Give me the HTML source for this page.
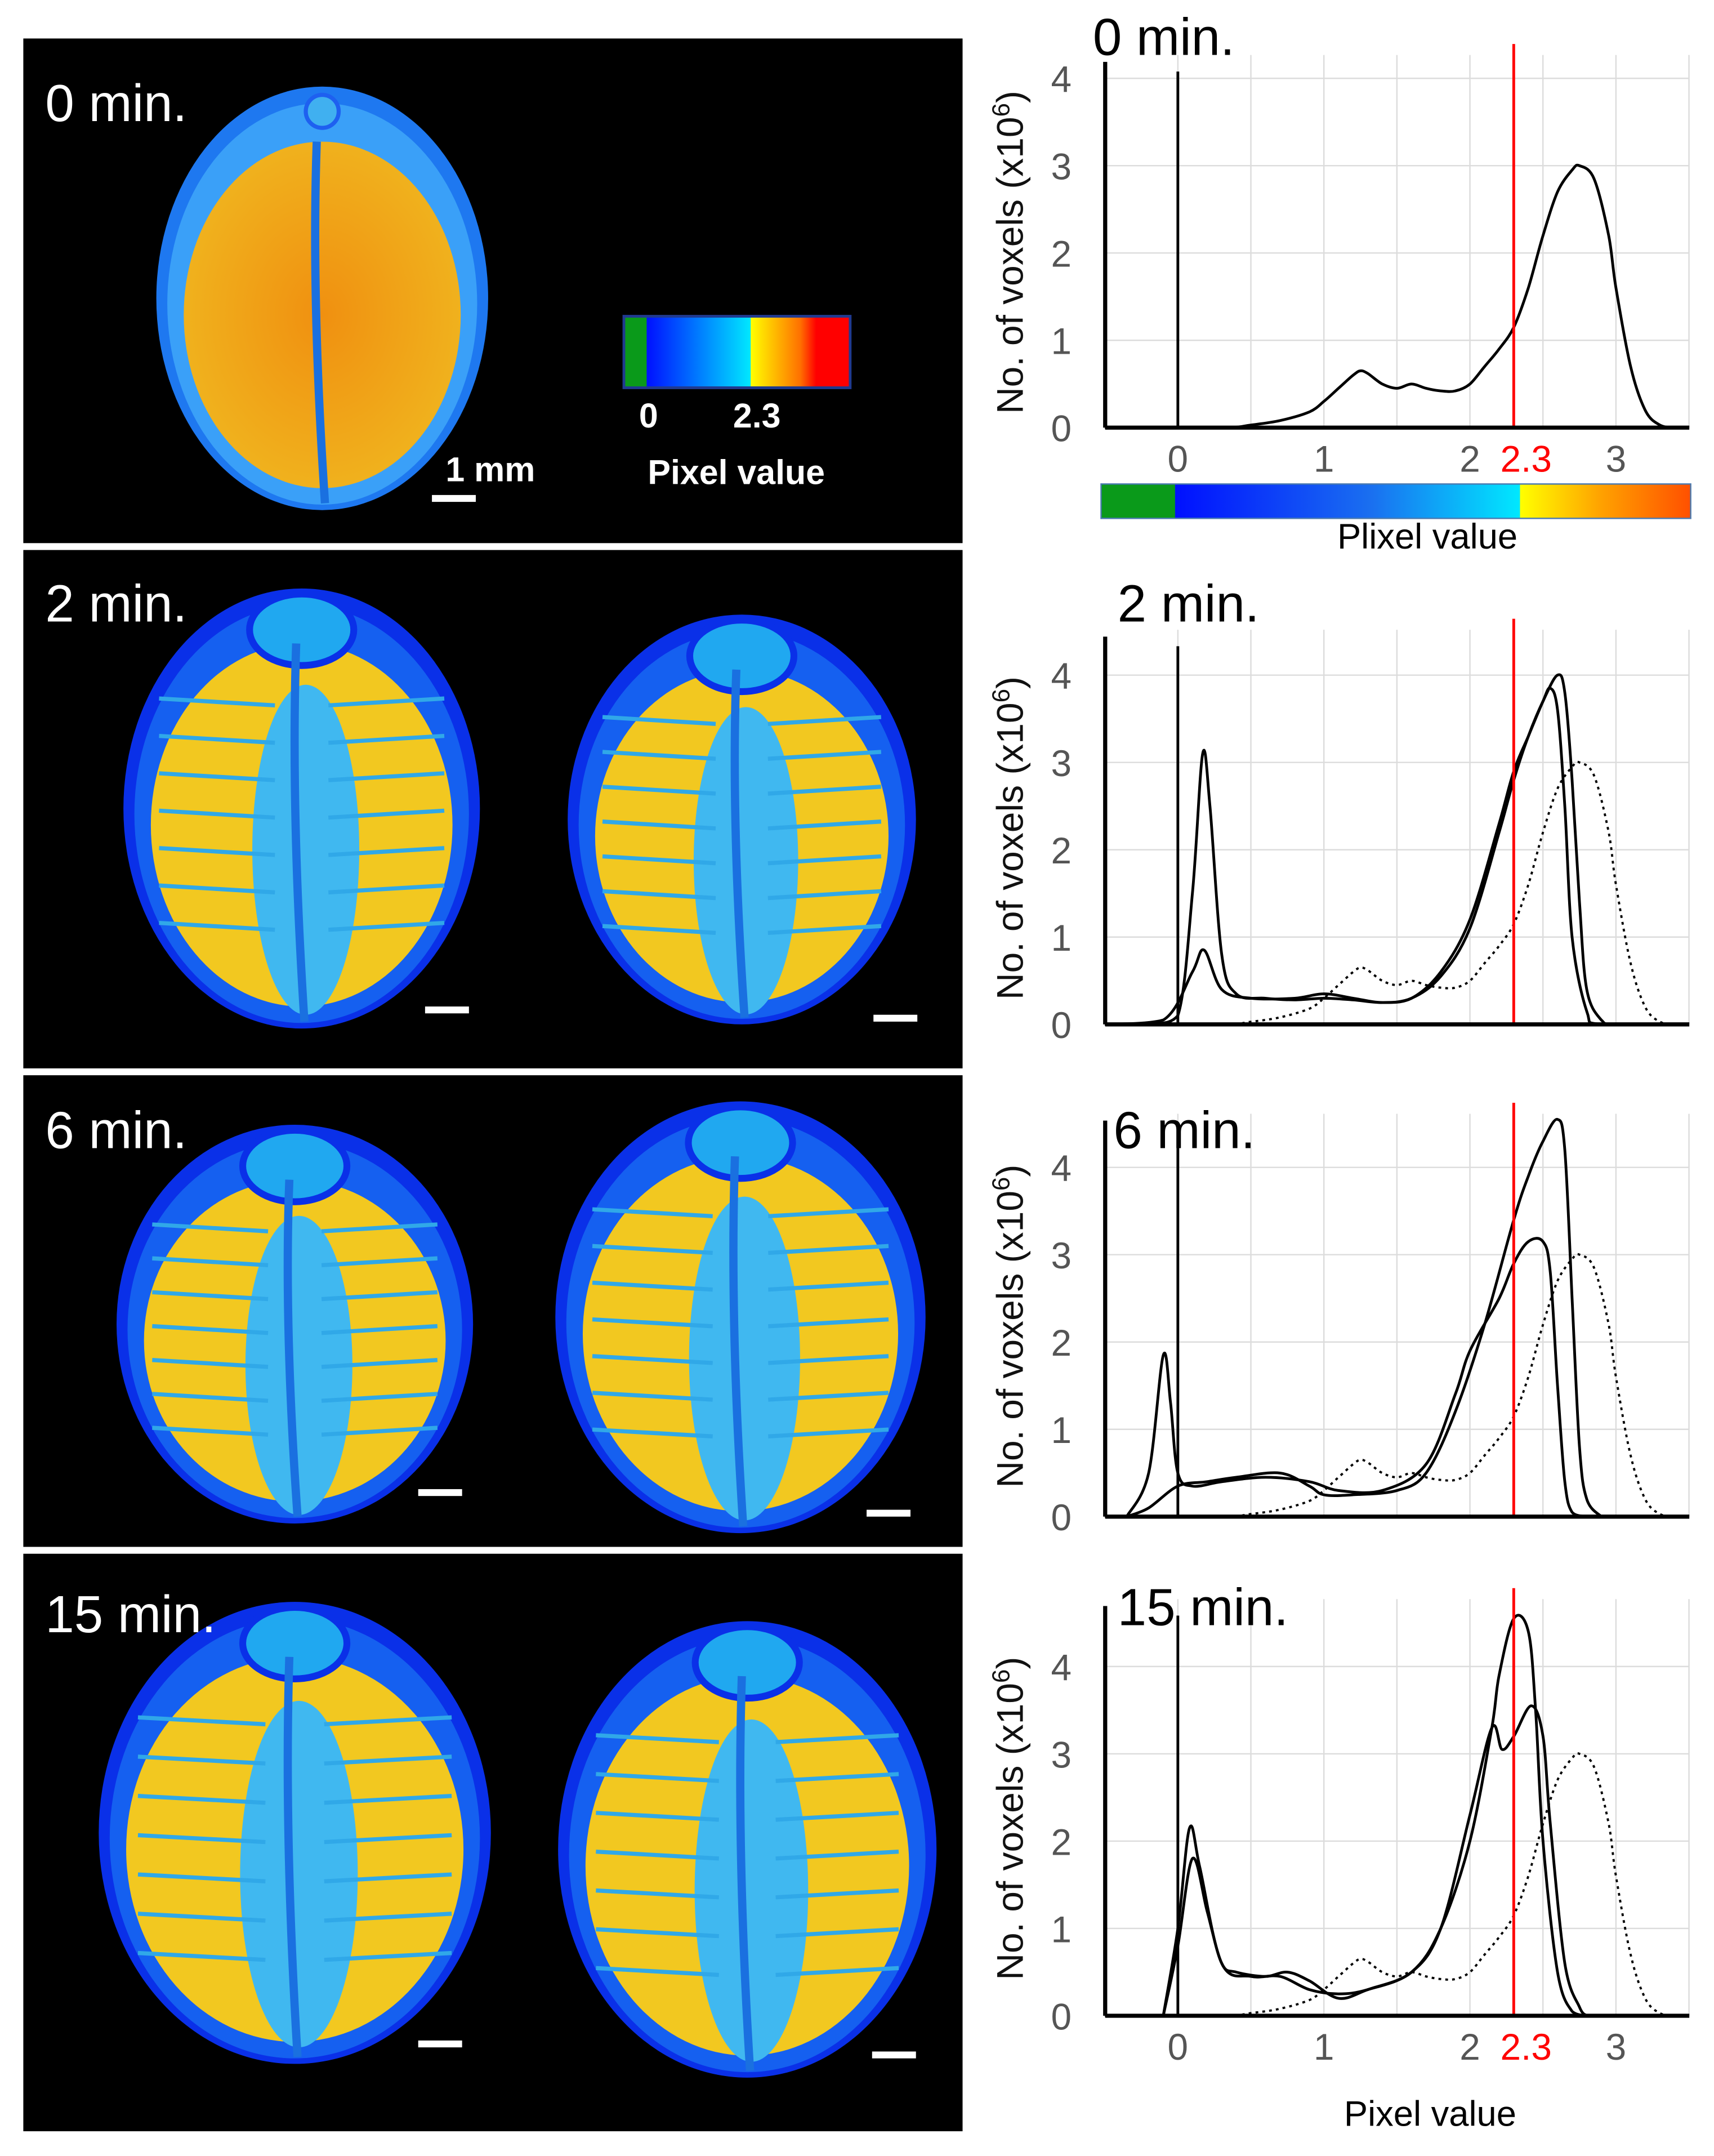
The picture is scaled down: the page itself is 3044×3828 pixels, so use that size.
<!DOCTYPE html>
<html><head><meta charset="utf-8"><style>
html,body{margin:0;padding:0;background:#fff;}
svg{display:block;font-family:"Liberation Sans",sans-serif;}
</style></head><body>
<svg id="fig" width="3044" height="3828" viewBox="0 0 1250 1568" preserveAspectRatio="none" xmlns="http://www.w3.org/2000/svg">
<defs>
<linearGradient id="cbar" x1="0" x2="1" y1="0" y2="0">
<stop offset="0" stop-color="#0a9a1a"/><stop offset="0.125" stop-color="#0a9a1a"/>
<stop offset="0.126" stop-color="#0010ff"/><stop offset="0.46" stop-color="#1a70f0"/>
<stop offset="0.71" stop-color="#00e8ff"/><stop offset="0.711" stop-color="#ffff00"/>
<stop offset="0.85" stop-color="#ffa000"/><stop offset="1" stop-color="#ff5000"/>
</linearGradient>
<linearGradient id="cbar2" x1="0" x2="1" y1="0" y2="0">
<stop offset="0" stop-color="#0a9a1a"/><stop offset="0.1" stop-color="#0a9a1a"/>
<stop offset="0.101" stop-color="#0010ff"/><stop offset="0.56" stop-color="#00e8ff"/>
<stop offset="0.561" stop-color="#ffff00"/><stop offset="0.78" stop-color="#ff7000"/>
<stop offset="0.85" stop-color="#ff0000"/><stop offset="1" stop-color="#ff0000"/>
</linearGradient>
<radialGradient id="orange" cx="0.5" cy="0.5" r="0.6">
<stop offset="0" stop-color="#f09010"/><stop offset="1" stop-color="#f0b820"/>
</radialGradient>
</defs>
<g id="images"></g>
<g id="charts"></g>
</svg>
<script>
// ---- chart data (pixel value x, voxel count y in 1e6) ----
const xTicks = [0, 1, 2, 3];
const yTicks = [0, 1, 2, 3, 4];
const threshold = 2.3;
const titles = ["0 min.", "2 min.", "6 min.", "15 min."];

const ref0x = [-0.5,0.3,0.5,0.7,0.9,1.0,1.1,1.2,1.25,1.3,1.4,1.5,1.6,1.7,1.8,1.9,2.0,2.1,2.2,2.3,2.4,2.5,2.6,2.7,2.75,2.85,2.95,3.0,3.1,3.2,3.3,3.4,3.5];
const ref0y = [0,0,0.03,0.08,0.18,0.3,0.45,0.6,0.65,0.62,0.5,0.45,0.5,0.45,0.42,0.42,0.5,0.7,0.9,1.15,1.6,2.2,2.7,2.95,3.0,2.85,2.2,1.6,0.7,0.2,0.03,0,0];

const m2ax = [-0.5,-0.2,0,0.1,0.17,0.22,0.3,0.4,0.6,0.8,1.0,1.2,1.4,1.6,1.8,2.0,2.2,2.3,2.4,2.5,2.55,2.6,2.65,2.7,2.8,2.9,3.5];
const m2ay = [0,0,0.1,1.5,3.1,2.5,0.8,0.35,0.3,0.28,0.3,0.28,0.25,0.3,0.6,1.2,2.3,2.9,3.3,3.7,3.85,3.6,2.5,1.0,0.15,0,0];
const m2bx = [-0.5,-0.1,0.1,0.18,0.3,0.5,0.8,1.0,1.2,1.4,1.6,1.8,2.0,2.2,2.3,2.4,2.5,2.6,2.65,2.7,2.75,2.8,2.9,3.0,3.5];
const m2by = [0,0.05,0.6,0.85,0.4,0.3,0.3,0.35,0.3,0.25,0.3,0.55,1.1,2.2,2.8,3.3,3.7,4.0,3.8,2.8,1.4,0.4,0.05,0,0];

const m6ax = [-0.35,-0.2,-0.1,-0.05,0,0.1,0.3,0.6,0.9,1.1,1.4,1.7,1.9,2.0,2.2,2.3,2.4,2.5,2.55,2.6,2.65,2.7,2.8];
const m6ay = [0,0.5,1.85,1.3,0.5,0.35,0.4,0.45,0.4,0.3,0.3,0.6,1.4,1.9,2.5,2.9,3.15,3.15,2.8,1.5,0.4,0.05,0];
const m6bx = [-0.35,-0.2,0,0.2,0.4,0.7,0.9,1.0,1.2,1.5,1.7,1.9,2.1,2.3,2.4,2.5,2.6,2.65,2.7,2.75,2.8,2.9];
const m6by = [0,0.1,0.35,0.4,0.45,0.5,0.35,0.25,0.25,0.3,0.5,1.2,2.2,3.4,3.9,4.3,4.55,4.2,2.5,0.8,0.2,0];

const m15ax = [-0.1,0,0.08,0.15,0.3,0.5,0.7,0.9,1.1,1.3,1.6,1.8,2.0,2.15,2.2,2.3,2.4,2.45,2.5,2.6,2.7,2.8];
const m15ay = [0,1.0,2.15,1.7,0.6,0.45,0.45,0.3,0.25,0.3,0.5,1.0,2.0,3.3,3.9,4.55,4.4,3.5,2.0,0.5,0.05,0];
const m15bx = [-0.1,0,0.1,0.2,0.3,0.4,0.6,0.75,0.9,1.1,1.3,1.6,1.8,2.0,2.15,2.22,2.3,2.42,2.5,2.55,2.65,2.75,2.8];
const m15by = [0,0.8,1.8,1.2,0.6,0.5,0.45,0.5,0.4,0.2,0.3,0.5,1.0,2.3,3.3,3.05,3.2,3.55,3.2,2.2,0.6,0.1,0];

const NS = "http://www.w3.org/2000/svg";
function mk(tag, attrs, parent, txt) {
  const e = document.createElementNS(NS, tag);
  for (const k in attrs) e.setAttribute(k, attrs[k]);
  if (txt !== undefined) e.textContent = txt;
  parent.appendChild(e);
  return e;
}
function smoothPath(pts, ymax) {
  let d = "M" + pts[0][0].toFixed(1) + "," + pts[0][1].toFixed(1);
  for (let i = 0; i < pts.length - 1; i++) {
    const p0 = pts[Math.max(0, i - 1)], p1 = pts[i], p2 = pts[i + 1], p3 = pts[Math.min(pts.length - 1, i + 2)];
    const c1x = p1[0] + (p2[0] - p0[0]) / 6, c1y = Math.min(ymax, p1[1] + (p2[1] - p0[1]) / 6);
    const c2x = p2[0] - (p3[0] - p1[0]) / 6, c2y = Math.min(ymax, p2[1] - (p3[1] - p1[1]) / 6);
    d += " C" + c1x.toFixed(1) + "," + c1y.toFixed(1) + " " + c2x.toFixed(1) + "," + c2y.toFixed(1) + " " + p2[0].toFixed(1) + "," + p2[1].toFixed(1);
  }
  return d;
}

const charts = document.getElementById("charts");
const cfgs = [
  {top: 40, y0: 311, tx: 797, ty: 40, series: [[ref0x, ref0y, false]], xlab: true},
  {top: 458, y0: 745, tx: 815, ty: 452, series: [[ref0x, ref0y, true], [m2ax, m2ay, false], [m2bx, m2by, false]], xlab: false},
  {top: 810, y0: 1103, tx: 812, ty: 835, series: [[ref0x, ref0y, true], [m6ax, m6ay, false], [m6bx, m6by, false]], xlab: false},
  {top: 1163, y0: 1466, tx: 815, ty: 1182, series: [[ref0x, ref0y, true], [m15ax, m15ay, false], [m15bx, m15by, false]], xlab: true}
];
const X = v => 859 + v * 106.5;
const LEFT = 806, RIGHT = 1232;

cfgs.forEach((c, ci) => {
  const Y = v => c.y0 - v * 63.5;
  const g = mk("g", {}, charts);
  
  
  for (let v = 0; v <= 3.5; v += 0.5) {
    const l = mk("line", {x1: X(v), x2: X(v), y1: c.top, y2: c.y0, stroke: "#dcdcdc", "stroke-width": 1}, g);
    
    
  }
  yTicks.forEach(t => {
    if (t === 0) return;
    const l = mk("line", {x1: LEFT, x2: RIGHT, y1: Y(t), y2: Y(t), stroke: "#dcdcdc", "stroke-width": 1}, g);
    
    
  });
  yTicks.forEach(t => {
    const tx = mk("text", {x: 774, y: Y(t) + 10, "font-size": 27, fill: "#555", "text-anchor": "middle"}, g, String(t));
    
    
  });
  const yt = mk("text", {x: 0, y: 0, "font-size": 27, fill: "#111", "text-anchor": "middle", transform: "translate(746," + ((c.top + c.y0) / 2 + 8) + ") rotate(-90)"}, g);
  
  
  mk("tspan", {}, yt, "No. of voxels (x10");
  mk("tspan", {dy: -10, "font-size": 18}, yt, "6");
  mk("tspan", {dy: 10}, yt, ")");
  const z = mk("line", {x1: X(0), x2: X(0), y1: c.top + 12, y2: c.y0, stroke: "#000", "stroke-width": 2}, g);
  
  
  c.series.forEach((s, si) => {
    const pts = s[0].map((xv, i) => [X(xv), Y(s[1][i])]);
    const p = mk("path", {d: smoothPath(pts, c.y0), fill: "none", stroke: "#000", "stroke-width": s[2] ? 1.6 : 2, "stroke-dasharray": s[2] ? "2,3" : "none"}, g);
    
    
  });
  const r = mk("line", {x1: X(threshold), x2: X(threshold), y1: c.top - 8, y2: c.y0, stroke: "#ff0000", "stroke-width": 2}, g);
  
  
  const ax = mk("line", {x1: LEFT, x2: LEFT, y1: c.top + 5, y2: c.y0, stroke: "#000", "stroke-width": 3}, g);
  
  
  const bx = mk("line", {x1: LEFT, x2: RIGHT, y1: c.y0, y2: c.y0, stroke: "#000", "stroke-width": 3}, g);
  
  
  const tt = mk("text", {x: c.tx, y: c.ty, "font-size": 38, fill: "#000"}, g, titles[ci]);
  
  
  if (c.xlab) {
    xTicks.forEach(t => {
      const l = mk("text", {x: X(t), y: c.y0 + 32, "font-size": 27, fill: "#555", "text-anchor": "middle"}, g, String(t));
      
      
    });
    const rl = mk("text", {x: X(threshold) + 9, y: c.y0 + 32, "font-size": 27, fill: "#ff0000", "text-anchor": "middle"}, g, String(threshold));
    
    
  }
});
{
  const cb = mk("rect", {x: 803, y: 352, width: 430, height: 25, fill: "url(#cbar)", stroke: "#4a7ab0", "stroke-width": 1}, charts);
  
  
  const t1 = mk("text", {x: 1041, y: 399, "font-size": 26, fill: "#000", "text-anchor": "middle"}, charts, "Plixel value");
  
  
  const t2 = mk("text", {x: 1043, y: 1546, "font-size": 26, fill: "#000", "text-anchor": "middle"}, charts, "Pixel value");
  
  
}

// ---- left image panels ----
const imgs = document.getElementById("images");
const panels = [
  {y: 28, h: 367, label: "0 min.", ly: 88},
  {y: 400, h: 377, label: "2 min.", ly: 452},
  {y: 782, h: 343, label: "6 min.", ly: 835},
  {y: 1130, h: 420, label: "15 min.", ly: 1187}
];
const seeds = [
  [{cx: 235, cy: 217, rx: 121, ry: 154, old: true, bar: [315, 360]}],
  [{cx: 220, cy: 588, rx: 130, ry: 160, bar: [310, 732]}, {cx: 541, cy: 596, rx: 127, ry: 149, bar: [637, 738]}],
  [{cx: 215, cy: 963, rx: 130, ry: 145, bar: [305, 1083]}, {cx: 540, cy: 958, rx: 135, ry: 157, bar: [632, 1098]}],
  [{cx: 215, cy: 1333, rx: 143, ry: 168, bar: [305, 1484]}, {cx: 545, cy: 1345, rx: 138, ry: 166, bar: [636, 1492]}]
];
panels.forEach((p, pi) => {
  const g = mk("g", {}, imgs);
  
  
  const bg = mk("rect", {x: 17, y: p.y, width: 685, height: p.h, fill: "#000"}, g);
  
  
  seeds[pi].forEach((s, si) => {
    const sg = mk("g", {}, g);
    
    
    mk("ellipse", {cx: s.cx, cy: s.cy, rx: s.rx, ry: s.ry, fill: s.old ? "#1e78f0" : "#0a30e8"}, sg);
    mk("ellipse", {cx: s.cx, cy: s.cy + 4, rx: s.rx - 8, ry: s.ry - 8, fill: s.old ? "#3aa0f8" : "#1560f0"}, sg);
    const innerFill = s.old ? "url(#orange)" : "#f2c820";
    mk("ellipse", {cx: s.cx, cy: s.cy + 12, rx: s.rx - 20, ry: s.ry - 28, fill: innerFill}, sg);
    if (!s.old) {
      mk("ellipse", {cx: s.cx + 3, cy: s.cy + 30, rx: s.rx * 0.3, ry: s.ry * 0.75, fill: "#40b8f0"}, sg);
      for (let k = 0; k < 7; k++) {
        const yy = s.cy - s.ry * 0.5 + k * s.ry * 0.17;
        mk("line", {x1: s.cx - s.rx * 0.8, x2: s.cx - s.rx * 0.15, y1: yy, y2: yy + 5, stroke: "#30a8e8", "stroke-width": 3}, sg);
        mk("line", {x1: s.cx + s.rx * 0.15, x2: s.cx + s.rx * 0.8, y1: yy + 5, y2: yy, stroke: "#30a8e8", "stroke-width": 3}, sg);
      }
      mk("ellipse", {cx: s.cx, cy: s.cy - s.ry + 30, rx: 38, ry: 26, fill: "#20a8f0", stroke: "#0a30e8", "stroke-width": 5}, sg);
    } else {
      mk("ellipse", {cx: s.cx, cy: s.cy - s.ry + 18, rx: 12, ry: 12, fill: "#40b0f0", stroke: "#1e60f0", "stroke-width": 3}, sg);
    }
    mk("path", {d: "M" + (s.cx - 4) + "," + (s.cy - s.ry + 40) + " Q" + (s.cx - 8) + "," + s.cy + " " + (s.cx + 2) + "," + (s.cy + s.ry - 5), fill: "none", stroke: "#1a70e0", "stroke-width": 6}, sg);
    const bar = mk("rect", {x: s.bar[0], y: s.bar[1], width: 32, height: 5, fill: "#fff"}, g);
    
    
  });
  const lt = mk("text", {x: 33, y: p.ly, "font-size": 38, fill: "#fff"}, g, p.label);
  
  
});
{
  const cb = mk("rect", {x: 455, y: 230, width: 165, height: 52, fill: "url(#cbar2)", stroke: "#203a90", "stroke-width": 2}, imgs);
  
  
  const a = mk("text", {x: 473, y: 311, "font-size": 25, "font-weight": "bold", fill: "#fff", "text-anchor": "middle"}, imgs, "0");
  
  
  const b = mk("text", {x: 552, y: 311, "font-size": 25, "font-weight": "bold", fill: "#fff", "text-anchor": "middle"}, imgs, "2.3");
  
  
  const c = mk("text", {x: 537, y: 352, "font-size": 25, "font-weight": "bold", fill: "#fff", "text-anchor": "middle"}, imgs, "Pixel value");
  
  
  const d = mk("text", {x: 325, y: 350, "font-size": 25, "font-weight": "bold", fill: "#fff"}, imgs, "1 mm");
  
  
}
</script>
</body></html>
